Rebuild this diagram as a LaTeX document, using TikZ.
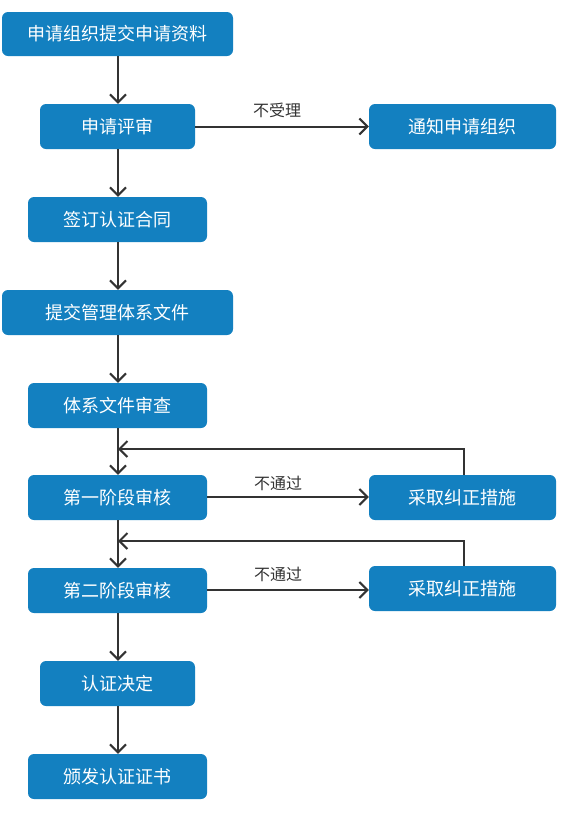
\documentclass[tikz,border=0pt]{standalone}
\usepackage{fontspec}
\setmainfont{Noto Sans CJK SC}
\usetikzlibrary{arrows.meta}
\definecolor{boxblue}{HTML}{1380C0}
\definecolor{linegray}{HTML}{333333}
\begin{document}
\begin{tikzpicture}[x=1pt,y=-1pt,
  flowbox/.style={fill=boxblue,rounded corners=6pt,text=white,font=\fontsize{18}{21}\selectfont,inner sep=0pt},
  conn/.style={draw=linegray,line width=2pt,-{Straight Barb[length=8pt,width=16pt,line width=2pt]}},
  lbl/.style={text=linegray,font=\fontsize{16}{19}\selectfont,inner sep=0pt}]
\useasboundingbox (0,0) rectangle (580,820);
\newcommand{\flowbox}[6]{\node[flowbox,minimum width=#4-#2,minimum height=#5-#3] (#1) at ({(#2+#4)/2},{(#3+#5)/2}) {#6};}
\flowbox{b1}{2}{12}{233}{56}{申请组织提交申请资料}
\flowbox{b2}{40}{104}{195}{149}{申请评审}
\flowbox{n1}{369}{104}{556}{149}{通知申请组织}
\flowbox{b3}{28}{197}{207}{242}{签订认证合同}
\flowbox{b4}{2}{290}{233}{335}{提交管理体系文件}
\flowbox{b5}{28}{383}{207}{428}{体系文件审查}
\flowbox{b6}{28}{475}{207}{520}{第一阶段审核}
\flowbox{c1}{369}{475}{556}{520}{采取纠正措施}
\flowbox{b7}{28}{568}{207}{613}{第二阶段审核}
\flowbox{c2}{369}{566}{556}{611}{采取纠正措施}
\flowbox{b8}{40}{661}{195}{706}{认证决定}
\flowbox{b9}{28}{754}{207}{799}{颁发认证证书}
\coordinate (j1) at (118,449);
\coordinate (j2) at (118,541);
\draw[conn] (b1.south -| 118,0) -- (b2.north -| 118,0);
\draw[conn] (b2.south -| 118,0) -- (b3.north -| 118,0);
\draw[conn] (b3.south -| 118,0) -- (b4.north -| 118,0);
\draw[conn] (b4.south -| 118,0) -- (b5.north -| 118,0);
\draw[conn] (b5.south -| 118,0) -- (b6.north -| 118,0);
\draw[conn] (b6.south -| 118,0) -- (b7.north -| 118,0);
\draw[conn] (b7.south -| 118,0) -- (b8.north -| 118,0);
\draw[conn] (b8.south -| 118,0) -- (b9.north -| 118,0);
\draw[conn] (b2.east) -- (n1.west) node[lbl,midway,yshift=16pt,xshift=-5pt] {不受理};
\draw[conn] (b6.east |- 0,497) -- (c1.west |- 0,497) node[lbl,midway,yshift=14pt,xshift=-10pt] {不通过};
\draw[conn] (b7.east |- 0,590) -- (c2.west |- 0,590) node[lbl,midway,yshift=16pt,xshift=-10pt] {不通过};
\draw[conn] (c1.north -| 464,0) |- (j1);
\draw[conn] (c2.north -| 464,0) |- (j2);
\end{tikzpicture}
\end{document}
